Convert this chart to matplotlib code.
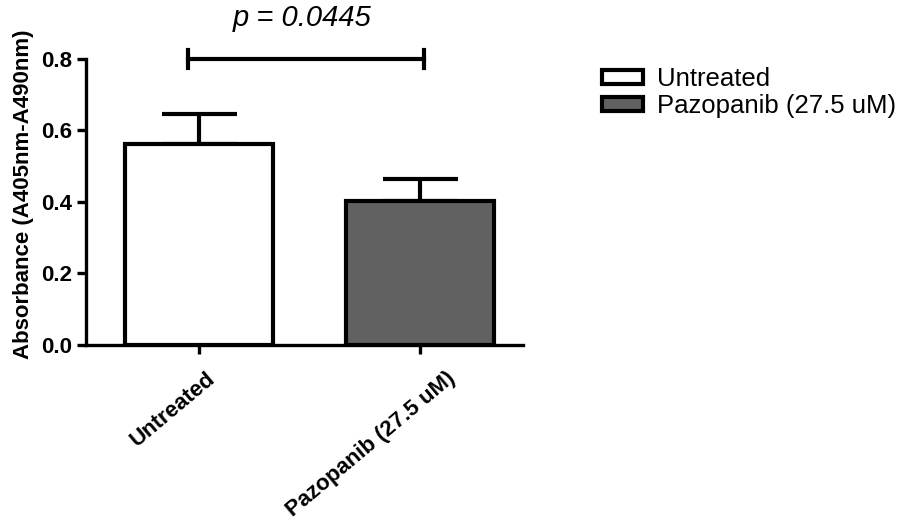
import numpy as np
import matplotlib.pyplot as plt
from matplotlib.patches import Patch
from matplotlib.transforms import ScaledTranslation

plt.rcParams["font.family"] = ["Liberation Sans", "DejaVu Sans"]

groups = ["Untreated", "Pazopanib (27.5 uM)"]
means = [0.562, 0.403]
sems = [0.084, 0.061]
colors = ["white", "#616161"]
p_text = "p = 0.0445"

fig = plt.figure(figsize=(9.02, 5.28), dpi=100)
ax = fig.add_axes([0.0953, 0.3466, 0.485, 0.5417])

x = np.arange(len(groups))
ax.bar(x, means, width=0.67, color=colors, edgecolor="black", linewidth=3, zorder=2)
ax.errorbar(x, means, yerr=[np.zeros(len(sems)), sems], fmt="none", ecolor="black",
            elinewidth=3, capsize=27, capthick=3, zorder=1)

ax.set_xlim(-0.51, 1.47)
ax.set_ylim(0, 0.8)
ax.set_yticks([0.0, 0.2, 0.4, 0.6, 0.8])
ax.set_yticklabels(["0.0", "0.2", "0.4", "0.6", "0.8"], fontsize=16, fontweight="bold")
ax.set_xticks(x)
ax.set_xticklabels(groups, rotation=40, ha="right", va="top", rotation_mode="anchor",
                   fontsize=16, fontweight="bold")
ax.set_ylabel("Absorbance (A405nm-A490nm)", fontsize=16, fontweight="bold", labelpad=5)
ax.yaxis.label.set_y(0.528)

for s in ["top", "right"]:
    ax.spines[s].set_visible(False)
for s in ["left", "bottom"]:
    ax.spines[s].set_linewidth(2.4)
ax.tick_params(width=2.4, length=6.5)
ax.tick_params(axis="x", pad=10)

# nudge the slanted labels like the original
for lab, dx in zip(ax.get_xticklabels(), [5, 19]):
    lab.set_transform(lab.get_transform() + ScaledTranslation(dx / 72, 0, fig.dpi_scale_trans))

# significance bracket
y_sig = 0.8
ax.plot([-0.05, 1.02], [y_sig, y_sig], color="black", lw=3, clip_on=False)
ax.plot([-0.05, -0.05], [y_sig - 0.025, y_sig + 0.025], color="black", lw=3, clip_on=False)
ax.plot([1.02, 1.02], [y_sig - 0.025, y_sig + 0.025], color="black", lw=3, clip_on=False)
ax.text(0.47, 0.915, p_text, ha="center", va="center", fontsize=21, style="italic")

handles = [Patch(facecolor=c, edgecolor="black", linewidth=3) for c in colors]
fig.legend(handles, groups, loc="upper left", bbox_to_anchor=(0.653, 0.897),
           frameon=False, fontsize=18.5, handlelength=1.6, handleheight=0.45,
           labelspacing=0.1, handletextpad=0.55, borderpad=0)

fig.savefig("out.png", dpi=100)
